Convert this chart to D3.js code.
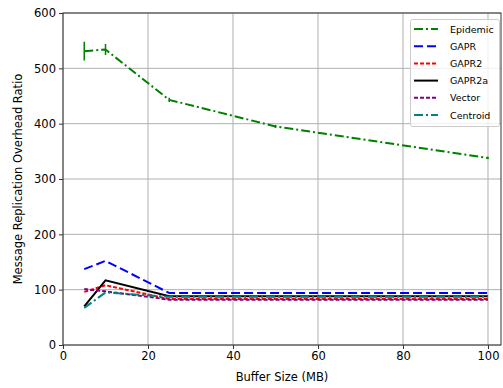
<!DOCTYPE html>
<html><head><meta charset="utf-8">
<script src="https://cdn.jsdelivr.net/npm/d3@7"></script>
<style>body{margin:0;background:#fff}svg{display:block;font-family:"DejaVu Sans",sans-serif}</style>
</head><body><svg id="c" width="503" height="388"></svg>
<script>
const bufferSizes = [5, 10, 25, 50, 100];
const seriesNames = ["Epidemic", "GAPR", "GAPR2", "GAPR2a", "Vector", "Centroid"];
const epidemic = [531, 534, 443, 395, 338];
const epidemicErr = [17, 10, 4, 3, 2];
const gapr = [137, 152, 94, 94, 94];
const gapr2 = [96, 108, 83, 83, 83];
const gapr2a = [70, 117, 88, 88, 88];
const vector = [101, 97, 82, 82, 82];
const centroid = [67, 95, 87, 87, 87];
const xTicks = [0, 20, 40, 60, 80, 100];
const yTicks = [0, 100, 200, 300, 400, 500, 600];

const colors = ["#008000", "#0000ff", "#ff0000", "#000000", "#800080", "#008080"];
const dashes = ["9,3,2,3", "9,4", "4,2", "", "4,2", "9,3,2,3"];
const values = [epidemic, gapr, gapr2, gapr2a, vector, centroid];

const svg = d3.select("#c");
const L = 63, R = 501, T = 13, B = 345;
const x = d3.scaleLinear().domain([0, 103.06]).range([L, R]);
const y = d3.scaleLinear().domain([0, 600]).range([B, T]);

// grid
const g = svg.append("g");
g.selectAll(".vx").data(xTicks).enter().append("line")
  .attr("x1", d => x(d)).attr("x2", d => x(d)).attr("y1", T).attr("y2", B)
  .attr("stroke", "#b0b0b0").attr("stroke-width", 1);
g.selectAll(".hy").data(yTicks).enter().append("line")
  .attr("x1", L).attr("x2", R).attr("y1", d => y(d)).attr("y2", d => y(d))
  .attr("stroke", "#b0b0b0").attr("stroke-width", 1);

// lines
const line = d3.line().x((d, i) => x(bufferSizes[i])).y(d => y(d));
values.forEach((vals, k) => {
  svg.append("path").datum(vals).attr("d", line)
    .attr("fill", "none").attr("stroke", colors[k]).attr("stroke-width", 2)
    .attr("stroke-dasharray", dashes[k] || null);
});
// error bars for Epidemic
svg.selectAll(".eb").data(epidemic).enter().append("line")
  .attr("x1", (d, i) => x(bufferSizes[i])).attr("x2", (d, i) => x(bufferSizes[i]))
  .attr("y1", (d, i) => y(d - epidemicErr[i])).attr("y2", (d, i) => y(d + epidemicErr[i]))
  .attr("stroke", colors[0]).attr("stroke-width", 1.5);

// axes
const xAxis = d3.axisBottom(x).tickValues(xTicks).tickSize(4).tickPadding(3);
const yAxis = d3.axisLeft(y).tickValues(yTicks).tickSize(4).tickPadding(3);
const gx = svg.append("g").attr("transform", `translate(0,${B})`).call(xAxis);
const gy = svg.append("g").attr("transform", `translate(${L},0)`).call(yAxis);
[gx, gy].forEach(a => {
  a.select(".domain").remove();
  a.selectAll("text").attr("font-size", 11.5).attr("fill", "#000").attr("font-family", "DejaVu Sans");
  a.selectAll("line").attr("stroke", "#333");
});
svg.append("rect").attr("x", L).attr("y", T).attr("width", R - L).attr("height", B - T)
  .attr("fill", "none").attr("stroke", "#333").attr("stroke-width", 1);

svg.append("text").attr("x", (L + R) / 2).attr("y", 381).attr("text-anchor", "middle")
  .attr("font-size", 11.5).text("Buffer Size (MB)");
svg.append("text").attr("transform", `translate(22,${(T + B) / 2}) rotate(-90)`)
  .attr("text-anchor", "middle").attr("font-size", 11.5).text("Message Replication Overhead Ratio");

// legend
const lg = svg.append("g");
lg.append("rect").attr("x", 410.5).attr("y", 19.5).attr("width", 89).attr("height", 107)
  .attr("rx", 2).attr("fill", "#fff").attr("fill-opacity", 0.8).attr("stroke", "#ccc");
seriesNames.forEach((n, k) => {
  const yy = 29 + k * 17.2;
  lg.append("line").attr("x1", 414).attr("x2", 438).attr("y1", yy).attr("y2", yy)
    .attr("stroke", colors[k]).attr("stroke-width", 2).attr("stroke-dasharray", dashes[k] || null);
  lg.append("text").attr("x", 450).attr("y", yy + 3.5).attr("font-size", 9.5).text(n);
});
</script></body></html>
